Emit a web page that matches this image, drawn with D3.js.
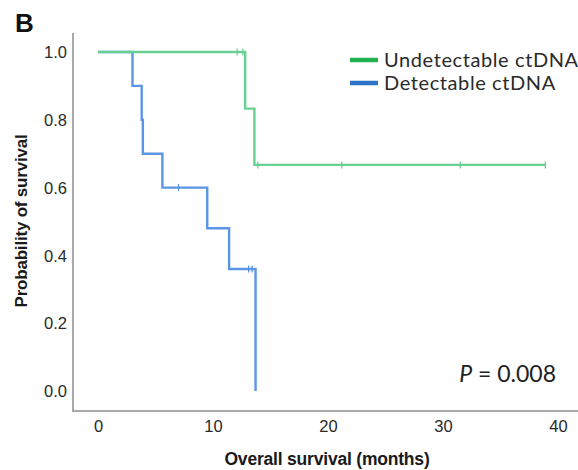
<!DOCTYPE html>
<html>
<head>
<meta charset="utf-8">
<script src="https://cdn.jsdelivr.net/npm/d3@7"></script>
<style>
  html, body { margin: 0; padding: 0; background: #fff; }
  svg { display: block; }
  .tick text { font-family: "Liberation Sans", Arial, sans-serif; font-size: 16.5px; fill: #2a2a2a; }
</style>
</head>
<body>
<svg id="chart" width="578" height="470"></svg>
<script>
// Kaplan–Meier steps: event times (months) and survival after each event
const undetTimes = [0, 12.8, 13.6];
const undetSurv = [1.0, 0.833, 0.667];
const undetEnd = 38.9;
const undetCensored = [12.1, 12.6, 13.9, 21.2, 31.5, 38.9];

const detTimes = [0, 3.0, 3.8, 3.9, 5.6, 9.5, 11.4, 13.7];
const detSurv = [1.0, 0.9, 0.8, 0.7, 0.6, 0.48, 0.36, 0.0];
const detEnd = 13.7;
const detCensored = [7.0, 13.1, 13.4];

const xTicks = [0, 10, 20, 30, 40];
const yTicks = [0.0, 0.2, 0.4, 0.6, 0.8, 1.0];
const groups = ["Undetectable ctDNA", "Detectable ctDNA"];
const pLabel = "0.008";

const svg = d3.select("#chart");
const x = d3.scaleLinear().domain([0, 40]).range([98, 558]);
const y = d3.scaleLinear().domain([0, 1]).range([391, 52]);

// axis frame
svg.append("line").attr("x1", 73).attr("x2", 73).attr("y1", 33).attr("y2", 411)
  .attr("stroke", "#a9a9a9").attr("stroke-width", 2);
svg.append("line").attr("x1", 72).attr("x2", 578).attr("y1", 411).attr("y2", 411)
  .attr("stroke", "#a9a9a9").attr("stroke-width", 2);

// tick labels
const yAxis = svg.append("g").attr("transform", "translate(73,0)")
  .call(d3.axisLeft(y).tickValues(yTicks).tickFormat(d3.format(".1f")).tickSize(0).tickPadding(6));
yAxis.select(".domain").remove();
yAxis.selectAll("text").attr("dy", "0.35em");

const xAxis = svg.append("g").attr("transform", "translate(0,411)")
  .call(d3.axisBottom(x).tickValues(xTicks).tickFormat(d3.format("d")).tickSize(0).tickPadding(9));
xAxis.select(".domain").remove();

// step curves
function stepPoints(times, surv, end) {
  const pts = times.map((t, i) => [t, surv[i]]);
  pts.push([end, surv[surv.length - 1]]);
  return pts;
}
function survAt(times, surv, t) {
  const i = d3.bisectRight(times, t) - 1;
  return surv[Math.max(0, i)];
}
const line = d3.line().x(d => x(d[0])).y(d => y(d[1])).curve(d3.curveStepAfter);

const series = [
  { times: detTimes, surv: detSurv, end: detEnd, cens: detCensored, color: "#5b95e6" },
  { times: undetTimes, surv: undetSurv, end: undetEnd, cens: undetCensored, color: "#6acf92" }
];

series.forEach(s => {
  svg.append("path")
    .attr("d", line(stepPoints(s.times, s.surv, s.end)))
    .attr("fill", "none").attr("stroke", s.color).attr("stroke-width", 2.4);
  svg.append("g").selectAll("line").data(s.cens).join("line")
    .attr("x1", d => x(d)).attr("x2", d => x(d))
    .attr("y1", d => y(survAt(s.times, s.surv, d)) - 3.5)
    .attr("y2", d => y(survAt(s.times, s.surv, d)) + 3.5)
    .attr("stroke", s.color).attr("stroke-width", 1.3);
});

// legend
const legendColors = ["#22b150", "#2b74c6"];
const legend = svg.append("g");
groups.forEach((g, i) => {
  const yy = 60 + i * 23;
  legend.append("line").attr("x1", 350).attr("x2", 378).attr("y1", yy).attr("y2", yy)
    .attr("stroke", legendColors[i]).attr("stroke-width", 4.5);
  legend.append("text").attr("x", 384).attr("y", yy + 6.5)
    .attr("font-family", "Lato, 'Open Sans', sans-serif").attr("font-size", 20)
    .attr("letter-spacing", 0.6).attr("fill", "#2a2a2a").text(g);
});

// p-value
const pText = svg.append("text").attr("x", 556).attr("y", 382).attr("text-anchor", "end")
  .attr("font-family", "Lato, 'Open Sans', sans-serif").attr("font-size", 23).attr("fill", "#222");
pText.append("tspan").attr("font-style", "italic").text("P");
pText.append("tspan").text(" = " + pLabel);

// axis titles
svg.append("text").attr("x", 327).attr("y", 465).attr("text-anchor", "middle")
  .attr("font-family", "'Liberation Sans', Arial, sans-serif").attr("font-weight", "bold")
  .attr("font-size", 17.5).attr("fill", "#1a1a1a").attr("letter-spacing", -0.2)
  .text("Overall survival (months)");
svg.append("text").attr("transform", "translate(27,221) rotate(-90)").attr("text-anchor", "middle")
  .attr("font-family", "'Liberation Sans', Arial, sans-serif").attr("font-weight", "bold")
  .attr("font-size", 17).attr("fill", "#1a1a1a").attr("letter-spacing", -0.2)
  .text("Probability of survival");

// panel letter
svg.append("text").attr("x", 15).attr("y", 32)
  .attr("font-family", "'Liberation Sans', Arial, sans-serif").attr("font-weight", "bold")
  .attr("font-size", 26).attr("fill", "#111").text("B");
</script>
</body>
</html>
